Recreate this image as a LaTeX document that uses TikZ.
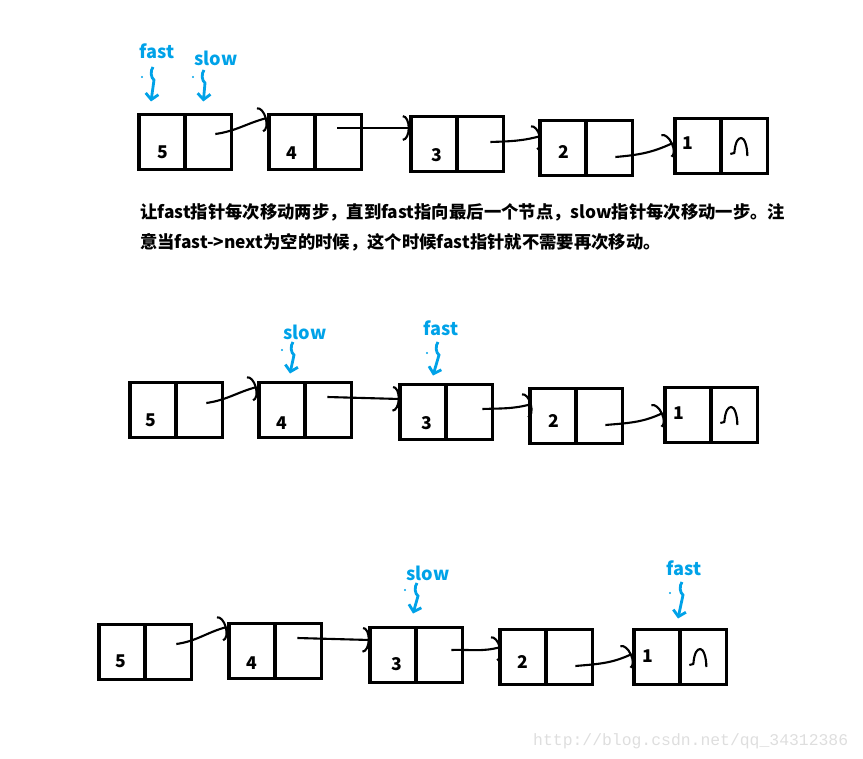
\documentclass[tikz,border=0pt]{standalone}
\usepackage{fontspec}
\newfontfamily\cjk{Noto Sans CJK SC}
\newfontfamily\wmfont{Liberation Mono}
\usetikzlibrary{positioning,calc,arrows.meta}
\definecolor{paintblue}{RGB}{0,162,232}
\definecolor{wmgray}{RGB}{222,222,222}

\tikzset{
  cell/.style={draw,line width=3pt,minimum width=1.39cm,minimum height=1.65cm,inner sep=0pt,outer sep=0pt},
  val/.style={font=\cjk\bfseries\fontsize{15}{18}\selectfont,inner sep=0pt},
  ptr/.style={text=paintblue,font=\cjk\bfseries\fontsize{15.5}{18}\selectfont,inner sep=0pt},
  link/.style={line width=1.8pt,-{Arc Barb[length=6pt,width=22pt,line width=1.8pt]}},
  squig/.style={paintblue,line width=2.4pt,-{Straight Barb[length=5pt,width=11pt,line width=2.4pt]},
    to path={.. controls +(-3,4) and +(-3,-2) .. ($(\tikztostart)+(1,13)$) -- (\tikztotarget)}},
  nullmark/.pic={\draw[line width=1.8pt,line join=round] (-14,8) -- ++(4,-1)
      .. controls +(1,-12) and +(-3,0) .. ++(7,-15)
      .. controls +(3,0) and +(0,-10) .. ++(6,18);},
}

\begin{document}
\begin{tikzpicture}[x=0.03cm,y=-0.03cm]
\useasboundingbox (0,0) rectangle (863,759);

% row 1: fast and slow both at the head
\foreach \v/\x/\y/\dx/\dy in {5/162/142/1/10,4/292/142/0/11,3/434/144/3/11,2/563/148/1/4,1/698/146/-10/-3}{
  \node[cell] (r1n\v) at (\x,\y) {};
  \node[cell,right=0pt of r1n\v] (r1p\v) {};
  \node[val] (r1v\v) at ($(r1n\v)+(\dx,\dy)$) {\v};
}
\draw[link] ($(r1p5)+(7,-8)$) to[out=8,in=195] ($(r1n4.west)+(-2,-24)$);
\draw[link] ($(r1p4)+(-1,-14)$) -- ($(r1n3.west)+(-1,-16)$);
\draw[link] ($(r1p3)+(10,-2)$) to[out=2,in=195] ($(r1n2.west)+(1,-12)$);
\draw[link] ($(r1p2)+(6,9)$) to[out=5,in=205] ($(r1n1.west)+(-2,-3)$);
\pic at (r1p1) {nullmark};

\node[ptr] (r1fast) at (157,51) {fast};
\node[ptr] (r1slow) at (216,58) {slow};
\draw[squig] ($(r1fast)+(-4,16)$) to ($(r1n5.north)+(-11,-13)$);
\draw[squig] ($(r1slow)+(-12,12)$) to ($(r1p5.north)+(-5,-13)$);
\fill[paintblue] ($(r1fast)+(-15,26)$) circle (0.9pt);
\fill[paintblue] ($(r1slow)+(-23,19)$) circle (0.9pt);

\node[anchor=north west,align=left,inner sep=0pt,font=\cjk\bfseries\fontsize{14.8}{25.5}\selectfont] (note) at (140,203)
  {让fast指针每次移动两步，直到fast指向最后一个节点，slow指针每次移动一步。注\\意当fast->next为空的时候，这个时候fast指针就不需要再次移动。};

% row 2
\foreach \v/\x/\y/\dx/\dy in {5/153/410/-2/10,4/282/410/0/13,3/423/412/4/11,2/553/416/1/5,1/688/415/-9/-2}{
  \node[cell] (r2n\v) at (\x,\y) {};
  \node[cell,right=0pt of r2n\v] (r2p\v) {};
  \node[val] (r2v\v) at ($(r2n\v)+(\dx,\dy)$) {\v};
}
\draw[link] ($(r2p5)+(7,-7)$) to[out=8,in=195] ($(r2n4.west)+(-2,-23)$);
\draw[link] ($(r2p4)+(-1,-13)$) -- ($(r2n3.west)+(0,-13)$);
\draw[link] ($(r2p3)+(13,-3)$) to[out=2,in=195] ($(r2n2.west)+(2,-12)$);
\draw[link] ($(r2p2)+(6,9)$) to[out=5,in=205] ($(r2n1.west)+(-2,-2)$);
\pic at (r2p1) {nullmark};

\node[ptr] (r2slow) at (305,332) {slow};
\node[ptr] (r2fast) at (441,328) {fast};
\draw[squig] ($(r2slow)+(-12,10)$) to ($(r2n4.north)+(8,-9)$);
\draw[squig] ($(r2fast)+(-3,14)$) to ($(r2n3.north)+(10,-9)$);
\fill[paintblue] ($(r2slow)+(-23,18)$) circle (0.9pt);
\fill[paintblue] ($(r2fast)+(-14,25)$) circle (0.9pt);

% row 3
\foreach \v/\x/\y/\dx/\dy in {5/122/652/-1/9,4/252/651/0/12,3/393/655/4/9,2/523/657/0/5,1/657/657/-9/-1}{
  \node[cell] (r3n\v) at (\x,\y) {};
  \node[cell,right=0pt of r3n\v] (r3p\v) {};
  \node[val] (r3v\v) at ($(r3n\v)+(\dx,\dy)$) {\v};
}
\draw[link] ($(r3p5)+(8,-8)$) to[out=8,in=195] ($(r3n4.west)+(-2,-24)$);
\draw[link] ($(r3p4)+(-1,-13)$) -- ($(r3n3.west)+(0,-15)$);
\draw[link] ($(r3p3)+(12,-5)$) to[out=2,in=195] ($(r3n2.west)+(1,-10)$);
\draw[link] ($(r3p2)+(6,9)$) to[out=5,in=205] ($(r3n1.west)+(-2,-3)$);
\pic at (r3p1) {nullmark};

\node[ptr] (r3slow) at (428,573) {slow};
\node[ptr] (r3fast) at (684,568) {fast};
\draw[squig] ($(r3slow)+(-11,10)$) to ($(r3n3.north)+(20,-14)$);
\draw[squig] ($(r3fast)+(-2,14)$) to ($(r3n1.north)+(21,-11)$);
\fill[paintblue] ($(r3slow)+(-23,17)$) circle (0.9pt);
\fill[paintblue] ($(r3fast)+(-14,25)$) circle (0.9pt);

\node[anchor=base west,inner sep=0pt,text=wmgray,font=\wmfont\fontsize{14}{16}\selectfont] (mark) at (533,745) {http://blog.csdn.net/qq\_34312386};
\end{tikzpicture}
\end{document}
